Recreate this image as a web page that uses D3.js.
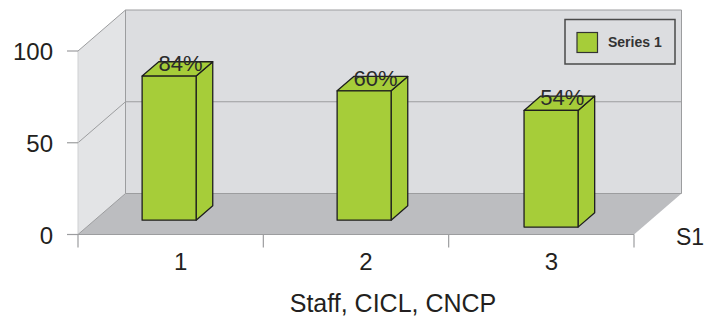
<!DOCTYPE html>
<html><head><meta charset="utf-8">
<script src="https://cdn.jsdelivr.net/npm/d3@7"></script>
<style>
html,body{margin:0;padding:0;background:#fff;}
svg{display:block;font-family:"Liberation Sans",Arial,Helvetica,sans-serif;}
</style></head>
<body><svg id="chart" width="706" height="316"></svg>
<script>
// ---- data ----
const categories = ["1", "2", "3"];
const barValues = [78.5, 70.5, 63.6];
const dataLabels = ["84%", "60%", "54%"];      // data labels as printed
const yTicks = [0, 50, 100];
const seriesName = "Series 1";
const depthAxisLabel = "S1";
const xTitle = "Staff, CICL, CNCP";

// ---- layout ----
const W = 706, H = 316;
const DX = 47.5, DY = -41;            // wall depth offset
const barDepthFrac = 0.35;            // bar depth as fraction of wall depth
const barPos = [0.35, 0.35, 0.18];    // depth position of each bar's front face
const barW = 54;
const green = "#a6cd39";

const svg = d3.select("#chart");
const x = d3.scaleBand().domain(categories).range([78, 634]).padding(0);
const xBar = d3.scaleBand().domain(categories).range([55, 640]).padding(0);
const y = d3.scaleLinear().domain([0, 100]).range([234.5, 51]);

const x0 = x.range()[0], x1 = x.range()[1];
const yb = y(0), yt = y(100);

// walls
svg.append("polygon")
  .attr("points", [[x0, yt], [x0 + DX, yt + DY], [x0 + DX, yb + DY], [x0, yb]].join(" "))
  .attr("fill", "#e3e4e6");
svg.append("rect")
  .attr("x", x0 + DX).attr("y", yt + DY).attr("width", x1 - x0).attr("height", yb - yt)
  .attr("fill", "#dcdde0");
// floor
svg.append("polygon")
  .attr("points", [[x0, yb], [x1, yb], [x1 + DX, yb + DY], [x0 + DX, yb + DY]].join(" "))
  .attr("fill", "#bcbdc0");

const gridC = "#9c9d9f";
// gridlines
yTicks.filter(t => t > 0).forEach(t => {
  svg.append("line").attr("x1", x0).attr("y1", y(t)).attr("x2", x0 + DX).attr("y2", y(t) + DY)
    .attr("stroke", gridC).attr("stroke-width", 1);
  svg.append("line").attr("x1", x0 + DX).attr("y1", y(t) + DY).attr("x2", x1 + DX).attr("y2", y(t) + DY)
    .attr("stroke", gridC).attr("stroke-width", 1);
});
// wall edges
svg.append("line").attr("x1", x0 + DX).attr("y1", yt + DY).attr("x2", x0 + DX).attr("y2", yb + DY)
  .attr("stroke", gridC).attr("stroke-width", 1);
svg.append("line").attr("x1", x1 + DX).attr("y1", yt + DY).attr("x2", x1 + DX).attr("y2", yb + DY)
  .attr("stroke", gridC).attr("stroke-width", 1);
svg.append("line").attr("x1", x0 + DX).attr("y1", yb + DY).attr("x2", x1 + DX).attr("y2", yb + DY)
  .attr("stroke", gridC).attr("stroke-width", 1);
svg.append("line").attr("x1", x0).attr("y1", yt).attr("x2", x0).attr("y2", yb)
  .attr("stroke", "#cfd0d2").attr("stroke-width", 1);
svg.append("line").attr("x1", x0).attr("y1", yb).attr("x2", x1).attr("y2", yb)
  .attr("stroke", gridC).attr("stroke-width", 1);
svg.append("line").attr("x1", x0).attr("y1", yb).attr("x2", x0 + DX).attr("y2", yb + DY)
  .attr("stroke", gridC).attr("stroke-width", 1);

// y axis ticks + labels
const yAxis = svg.append("g");
yTicks.forEach(t => {
  yAxis.append("line").attr("x1", x0 - 11).attr("x2", x0).attr("y1", y(t)).attr("y2", y(t))
    .attr("stroke", gridC).attr("stroke-width", 1.2);
  yAxis.append("text").attr("x", 53).attr("y", y(t) + 9).attr("text-anchor", "end")
    .attr("font-size", 24).attr("fill", "#231f20").text(t);
});

// x axis ticks (category boundaries) + labels
const bounds = categories.map(c => x(c)).concat([x1]);
bounds.forEach(b => {
  svg.append("line").attr("x1", b).attr("x2", b).attr("y1", yb).attr("y2", yb + 13)
    .attr("stroke", gridC).attr("stroke-width", 1.2);
});
categories.forEach(c => {
  svg.append("text").attr("x", x(c) + x.bandwidth() / 2 + 10).attr("y", 270)
    .attr("text-anchor", "middle").attr("font-size", 24).attr("fill", "#231f20").text(c);
});

// bars
const bdx = DX * barDepthFrac, bdy = DY * barDepthFrac;
categories.forEach((c, i) => {
  const sx = DX * barPos[i], sy = DY * barPos[i];
  const cx = xBar(c) + xBar.bandwidth() / 2 + sx;
  const L = cx - barW / 2, R = cx + barW / 2;
  const B = y(0) + sy, T = y(barValues[i]) + sy;
  const g = svg.append("g").attr("stroke", "#1e1e1e").attr("stroke-width", 1.3)
    .attr("stroke-linejoin", "round").attr("fill", green);
  g.append("polygon").attr("points", [[R, B], [R + bdx, B + bdy], [R + bdx, T + bdy], [R, T]].join(" "));
  g.append("polygon").attr("points", [[L, T], [R, T], [R + bdx, T + bdy], [L + bdx, T + bdy]].join(" "));
  g.append("rect").attr("x", L).attr("y", T).attr("width", barW).attr("height", B - T);
  svg.append("text").attr("x", cx + bdx / 2 + 3).attr("y", T + bdy / 2 + 2)
    .attr("text-anchor", "middle").attr("font-size", 22).attr("fill", "#2b2b2b").text(dataLabels[i]);
});

// depth axis label
svg.append("text").attr("x", 676).attr("y", 245).attr("font-size", 23).attr("fill", "#231f20").text(depthAxisLabel);

// x title
svg.append("text").attr("x", 393).attr("y", 312).attr("text-anchor", "middle")
  .attr("font-size", 25).attr("fill", "#231f20").text(xTitle);

// legend
const lg = svg.append("g");
lg.append("rect").attr("x", 565).attr("y", 19.5).attr("width", 110).attr("height", 44.5)
  .attr("fill", "#dcdde0").attr("stroke", "#4a4a4a").attr("stroke-width", 1.5);
lg.append("rect").attr("x", 577).attr("y", 32.5).attr("width", 20.5).attr("height", 20)
  .attr("fill", green).attr("stroke", "#333").attr("stroke-width", 1.2);
lg.append("text").attr("x", 608).attr("y", 46.5).attr("font-size", 14).attr("font-weight", "bold")
  .attr("fill", "#333").text(seriesName);
</script>
</body></html>
